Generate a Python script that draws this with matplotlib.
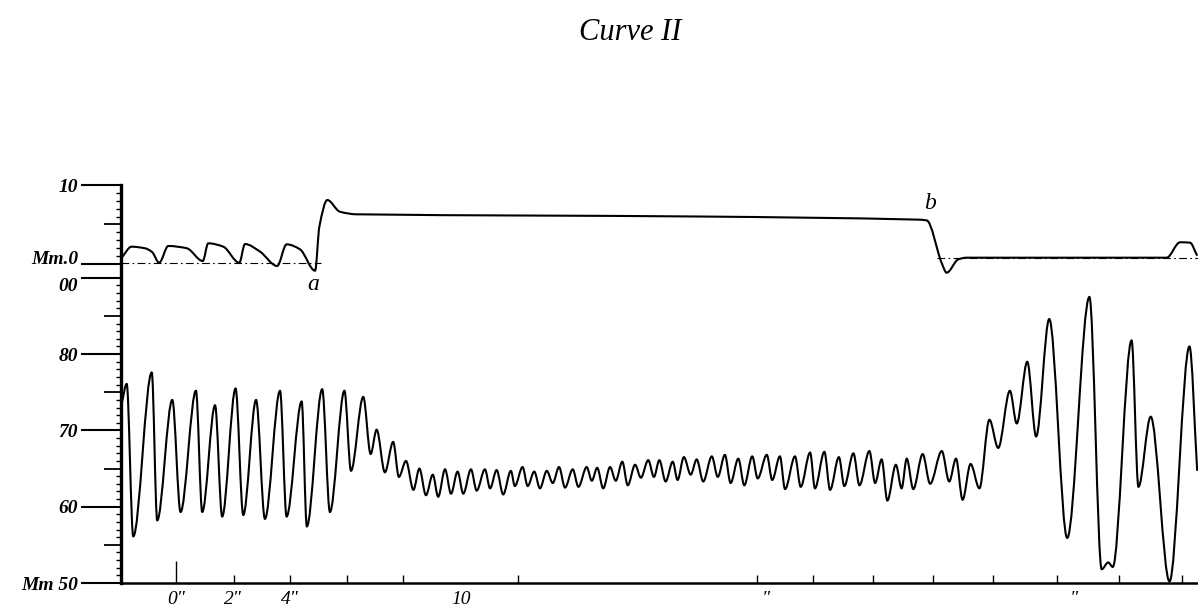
import numpy as np
import matplotlib
matplotlib.use("Agg")
import matplotlib.pyplot as plt
from matplotlib.path import Path
from matplotlib.patches import PathPatch

# ========== data read off the tracing ==========
# lower trace: pressure in Mm, turning points (seconds, Mm)
pressure_t = [-1.9, -1.73, -1.5, -0.85, -0.66, -0.13, 0.16, 0.7, 0.92, 1.37,
              1.62, 2.09, 2.36, 2.81, 3.12, 3.65, 3.88, 4.41, 4.59, 5.13,
              5.4, 5.91, 6.14, 6.57, 6.83, 7.04, 7.33, 7.62, 7.82, 8.07,
              8.33, 8.54, 8.77, 9.01, 9.2, 9.44, 9.65, 9.88, 10.08, 10.35,
              10.55, 10.84, 11.02, 11.25, 11.48, 11.75, 11.89, 12.16, 12.34, 12.57,
              12.77, 13.01, 13.22, 13.44, 13.65, 13.92, 14.12, 14.41, 14.59, 14.78,
              14.99, 15.23, 15.43, 15.66, 15.85, 16.11, 16.31, 16.57, 16.77, 16.96,
              17.18, 17.43, 17.6, 17.82, 18.06, 18.27, 18.5, 18.8, 19.01, 19.26,
              19.46, 19.73, 19.94, 20.22, 20.41, 20.73, 20.92, 21.19, 21.37, 21.72,
              21.92, 22.25, 22.42, 22.75, 22.95, 23.26, 23.45, 23.77, 23.98, 24.33,
              24.53, 24.76, 24.96, 25.26, 25.46, 25.64, 25.87, 26.2, 26.46, 26.87,
              27.13, 27.37, 27.6, 27.88, 28.19, 28.54, 28.85, 29.26, 29.5, 29.87,
              30.18, 30.64, 31.27, 32.05, 32.48, 32.71, 32.87, 33.53, 33.77, 34.2,
              34.86, 35.56, 35.83]
pressure_mm = [73.6, 76.1, 56.1, 77.6, 58.2, 74.0, 59.3, 75.2, 59.3, 73.3,
               58.7, 75.5, 58.9, 74.0, 58.4, 75.2, 58.7, 73.8, 57.4, 75.4,
               59.3, 75.2, 64.7, 74.4, 66.9, 70.1, 64.5, 68.5, 63.9, 66.0,
               62.2, 65.0, 61.5, 64.2, 61.3, 64.9, 61.7, 64.6, 61.7, 64.9,
               62.1, 64.9, 62.4, 64.8, 61.6, 64.7, 62.7, 65.2, 62.7, 64.6,
               62.4, 64.7, 63.1, 65.2, 62.5, 64.9, 62.6, 65.2, 63.4, 65.1,
               62.4, 65.2, 63.4, 65.9, 62.8, 65.5, 63.8, 66.1, 63.9, 66.1,
               63.3, 65.9, 63.5, 66.5, 64.2, 66.2, 63.3, 66.6, 63.9, 66.8,
               63.1, 66.3, 62.8, 66.6, 63.7, 66.8, 63.5, 66.6, 62.3, 66.6,
               62.6, 67.1, 62.4, 67.2, 62.2, 66.5, 62.7, 67.0, 62.8, 67.3,
               63.1, 66.2, 60.8, 65.5, 62.4, 66.3, 62.3, 66.9, 63.0, 67.3,
               63.3, 66.3, 60.9, 65.6, 62.4, 71.4, 67.7, 75.2, 70.9, 79.0,
               69.2, 84.6, 55.9, 87.5, 51.8, 52.7, 52.1, 81.8, 62.6, 71.8,
               50.2, 81.0, 64.8]

# upper trace: own scale 0..10 Mm
upper_t = [-1.89, -1.56, -1.09, -0.84, -0.59, -0.27, 0.38, 0.94, 1.13, 1.66,
           2.22, 2.42, 2.95, 3.55, 3.88, 4.35, 4.88, 5.03, 5.31, 5.75,
           6.34, 18.39, 26.0, 26.34, 26.87, 27.04, 27.45, 27.74, 34.76, 35.23,
           35.58, 35.82]
upper_mm = [0.89, 2.19, 1.99, 1.52, 0.16, 2.28, 1.99, 0.38, 2.62, 2.19,
            0.16, 2.53, 1.56, -0.25, 2.49, 1.86, -0.85, 4.72, 8.1, 6.62,
            6.29, 6.01, 5.62, 5.52, 0.09, -1.1, 0.59, 0.8, 0.8, 2.75,
            2.70, 1.14]

# dash-dot zero lines of the upper trace (level, from, to)
zero_lines = [(0.16, -1.93, 5.1), (0.72, 26.7, 35.9)]

# time marks on the base line (seconds)
time_marks = [0, 2.04, 4.0, 6.0, 7.96, 12.0, 20.4, 22.35, 24.46, 26.56,
              28.67, 30.9, 33.1, 35.3]
time_label_pos = [0, 2, 4, 10, 20.7, 31.5]
time_labels = ['0"', '2"', '4"', '10', '"', '"']

lower_ticks = [50, 60, 70, 80, 90]
lower_labels = ["Mm 50", "60", "70", "80", "00"]
upper_ticks = [0, 10]
upper_labels = ["Mm.0", "10"]


def smooth_path(xs, ys):
    # cubic Hermite through the turning points, flat at peaks and troughs
    xs = np.asarray(xs, float)
    ys = np.asarray(ys, float)
    n = len(xs)
    d = np.diff(ys) / np.diff(xs)
    m = np.zeros(n)
    for i in range(1, n - 1):
        if d[i - 1] * d[i] > 0:
            m[i] = 2.0 / (1.0 / d[i - 1] + 1.0 / d[i])
    m[0] = d[0]
    m[-1] = d[-1]
    verts = [(xs[0], ys[0])]
    codes = [Path.MOVETO]
    for i in range(n - 1):
        h = (xs[i + 1] - xs[i]) / 3
        verts += [(xs[i] + h, ys[i] + m[i] * h),
                  (xs[i + 1] - h, ys[i + 1] - m[i + 1] * h),
                  (xs[i + 1], ys[i + 1])]
        codes += [Path.CURVE4] * 3
    return Path(verts, codes)


plt.rcParams['font.family'] = ['Liberation Serif', 'DejaVu Serif']
plt.rcParams['font.style'] = 'italic'

fig = plt.figure(figsize=(11.98, 6.08), dpi=100)
ax = fig.add_axes([121 / 1198, 25 / 608, 1077 / 1198, 398 / 608])
ax.set_xlim(-1.93, 35.86)
ax.set_ylim(50, 102.16)

ax2 = ax.twinx()
ax2.set_ylim(-40.38, 10.0)

for a in (ax, ax2):
    a.patch.set_visible(False)
    for s in ('top', 'right'):
        a.spines[s].set_visible(False)
ax2.spines['left'].set_visible(False)
ax2.spines['bottom'].set_visible(False)
ax.spines['left'].set_linewidth(2.4)
ax.spines['bottom'].set_linewidth(1.8)

# traces
ax.add_patch(PathPatch(smooth_path(pressure_t, pressure_mm), fill=False,
                       edgecolor='black', lw=1.5, capstyle='round', joinstyle='round'))
ax2.add_patch(PathPatch(smooth_path(upper_t, upper_mm), fill=False,
                        edgecolor='black', lw=1.5, capstyle='round', joinstyle='round'))
for lvl, x0, x1 in zero_lines:
    ax2.hlines(lvl, x0, x1, colors='black', lw=0.8, linestyles=(0, (7, 3, 1.5, 3)))

ax2.text(4.81, -2.6, "a", ha='center', va='center', fontsize=17)
ax2.text(26.46, 7.7, "b", ha='center', va='center', fontsize=17)

# y scales: long ticks each 10, medium at 5, short each 1
ax.set_yticks(lower_ticks, labels=lower_labels)
ax.set_yticks([v for v in range(51, 90) if v % 10], minor=True)
ax2.yaxis.set_ticks_position('left')
ax2.set_yticks(upper_ticks, labels=upper_labels)
ax2.set_yticks([v for v in range(1, 10)], minor=True)
for a in (ax, ax2):
    a.tick_params(axis='y', which='major', length=29, width=1.5, pad=2, labelsize=14)
    a.tick_params(axis='y', which='minor', length=3.6, width=1.0)
    for tick, loc in zip(a.yaxis.get_minor_ticks(), a.yaxis.get_minorticklocs()):
        if round(loc) % 5 == 0:
            tick.tick1line.set_markersize(12)
            tick.tick1line.set_markeredgewidth(1.3)
for lbl in ax.get_yticklabels() + ax2.get_yticklabels():
    lbl.set_fontweight('bold')
ax2.get_yticklabels()[0].set_verticalalignment('baseline')
ax.get_yticklabels()[-1].set_verticalalignment('top')

# time marks on base line
ax.xaxis.remove_overlapping_locs = False
ax.set_xticks(time_marks, labels=[""] * len(time_marks))
ax.set_xticks(time_label_pos, labels=time_labels, minor=True)
ax.tick_params(axis='x', which='major', direction='in', length=6, width=1.0)
ax.tick_params(axis='x', which='minor', length=0, pad=6, labelsize=14)
ax.xaxis.get_major_ticks()[0].tick1line.set_markersize(16)

fig.text(630 / 1198, 1 - 33 / 608, "Curve II", ha='center', va='center', fontsize=22)

fig.savefig("out.png", dpi=100)
